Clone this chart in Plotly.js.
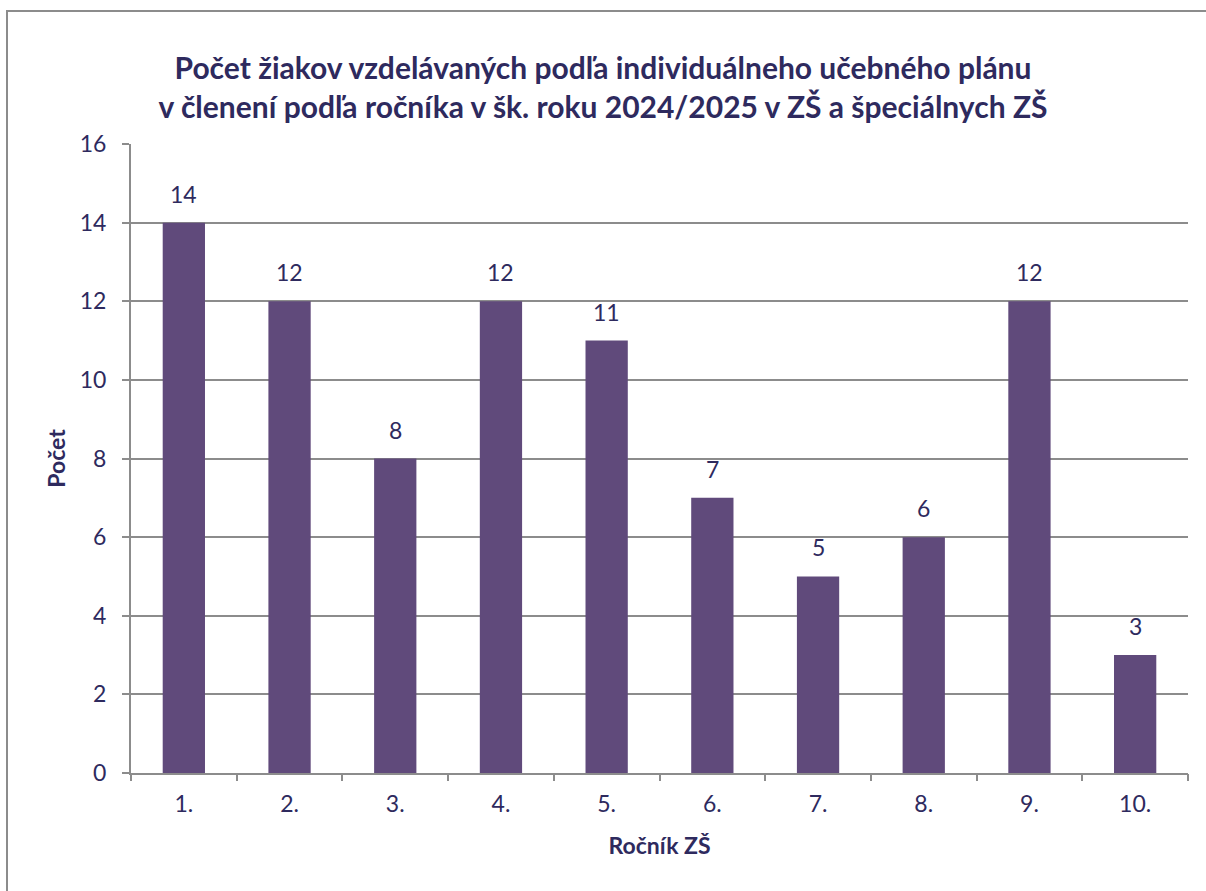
<!DOCTYPE html>
<html>
<head>
<meta charset="utf-8">
<script src="https://cdn.plot.ly/plotly-3.0.1.min.js"></script>
<style>
html, body { margin: 0; padding: 0; background: #fff; }
#wrap { position: relative; width: 1206px; height: 891px; overflow: hidden; }
#chart { width: 1206px; height: 891px; }
#frame { position: absolute; left: 6px; top: 10px; width: 1300px; height: 1000px; border: 2px solid #8c8c8c; pointer-events: none; box-sizing: border-box; }
</style>
</head>
<body>
<div id="wrap">
<div id="chart"></div>
<div id="frame"></div>
</div>
<script>
const categories = ["1.", "2.", "3.", "4.", "5.", "6.", "7.", "8.", "9.", "10."];
const values = [14, 12, 8, 12, 11, 7, 5, 6, 12, 3];
const yTicks = [0, 2, 4, 6, 8, 10, 12, 14, 16];

const titleText = "Počet žiakov vzdelávaných podľa individuálneho učebného plánu<br>v členení podľa ročníka v šk. roku 2024/2025 v ZŠ a špeciálnych ZŠ";
const xTitle = "Ročník ZŠ";
const yTitle = "Počet";

const txt = "#2e2a5e";
const font = "Lato, 'Open Sans', sans-serif";
const positions = categories.map((c, i) => i);

const trace = {
  type: "bar",
  x: positions,
  y: values,
  marker: { color: "#604a7b", line: { width: 0 } },
  hoverinfo: "y"
};

const annotations = positions.map((p, i) => ({
  x: p, y: values[i], xref: "x", yref: "y",
  text: String(values[i]), showarrow: false,
  yshift: 29, font: { family: font, size: 23, color: txt }
}));

const layout = {
  width: 1206, height: 891,
  margin: { l: 131, r: 18, t: 144, b: 118 },
  paper_bgcolor: "rgba(0,0,0,0)",
  plot_bgcolor: "#fff",
  bargap: 0.6,
  showlegend: false,
  font: { family: font, color: txt, size: 23 },
  title: {
    text: titleText,
    x: 0.5, xref: "container", xanchor: "center",
    y: 1 - 79 / 891, yref: "container", yanchor: "middle",
    font: { family: font, size: 30, color: txt, weight: "bold" }
  },
  xaxis: {
    type: "linear",
    range: [-0.5, categories.length - 0.5],
    tickmode: "array",
    tickvals: positions,
    ticktext: categories,
    ticks: "",
    showline: true, linecolor: "#8c8c8c", linewidth: 2,
    showgrid: false, zeroline: false,
    tickfont: { family: font, size: 23, color: txt },
    ticklabelstandoff: 9,
    title: { text: xTitle, font: { family: font, size: 23, color: txt, weight: "bold" }, standoff: 22 }
  },
  xaxis2: {
    overlaying: "x", matches: "x",
    range: [-0.5, categories.length - 0.5],
    tickmode: "array",
    tickvals: positions.map(p => p - 0.5).concat([categories.length - 0.5]),
    showticklabels: false,
    ticks: "outside", ticklen: 7, tickcolor: "#8c8c8c", tickwidth: 2,
    showgrid: false, zeroline: false, showline: false,
    anchor: "y", side: "bottom"
  },
  yaxis: {
    range: [0, 16],
    tickvals: yTicks,
    ticks: "outside", ticklen: 7, tickcolor: "#8c8c8c", tickwidth: 2,
    showline: true, linecolor: "#8c8c8c", linewidth: 2,
    showgrid: true, gridcolor: "#8c8c8c", gridwidth: 2,
    zeroline: false,
    tickfont: { family: font, size: 23, color: txt },
    ticklabelstandoff: 11,
    title: { text: yTitle, font: { family: font, size: 23, color: txt, weight: "bold" }, standoff: 8 }
  },
  annotations: annotations
};

const helper = { type: "scatter", x: [0], y: [0], xaxis: "x2", yaxis: "y", mode: "markers", marker: { opacity: 0 }, hoverinfo: "skip" };

Plotly.newPlot("chart", [trace, helper], layout, { displayModeBar: false, staticPlot: true });
</script>
</body>
</html>
